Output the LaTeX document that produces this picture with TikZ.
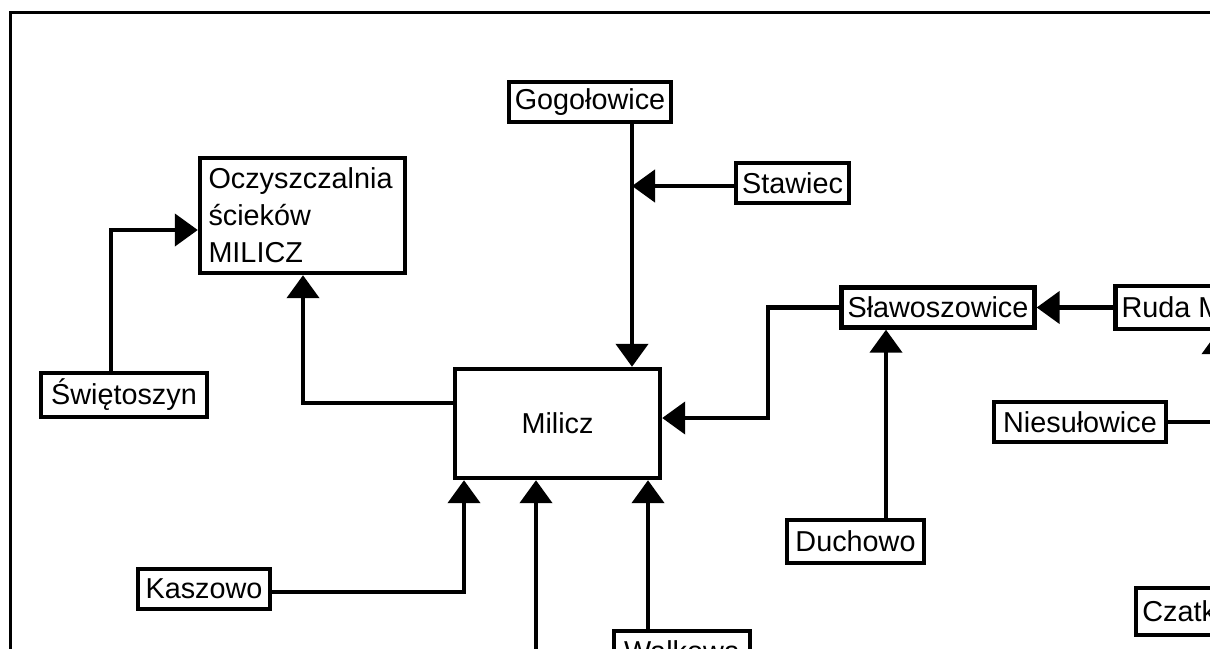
\documentclass[tikz,border=0pt]{standalone}
\usepackage{fontspec}
\setmainfont{Liberation Sans}
\usetikzlibrary{arrows.meta}

\begin{document}
\begin{tikzpicture}[x=0.5pt, y=-0.5pt, line width=2.2pt,
    >={Triangle[length=11.5pt, width=16pt]},
    font=\fontsize{14.4pt}{18.5pt}\selectfont,
    box/.style = {draw, inner xsep=3pt, inner ysep=0pt, minimum height=20pt},
    big/.style = {draw, minimum width=102.5pt}]
    \useasboundingbox (0,0) rectangle (1210,648);
    \clip (0,0) rectangle (1210,648);
    \draw[line width=1.5pt] (10.5,12) rectangle (1300,720);

    \node[big, text width=94pt, inner xsep=4pt, align=left, minimum height=57.5pt] (ocz) at (302.5,215.5) {Oczyszczalnia\\ścieków\\MILICZ};
    \node[big, minimum height=54.5pt] (mil) at (557.5,423.5) {Milicz};
    \node[box, minimum width=81pt] (gog) at (590,102) {Gogołowice};
    \node[box, minimum width=54.5pt] (staw) at (792.5,183) {Stawiec};
    \node[box, minimum width=95pt] (slaw) at (938,307.5) {Sławoszowice};
    \node[box, minimum width=88pt, minimum height=21.5pt] (ruda) at (1204,307.5) {Ruda Milicka};
    \node[box, minimum width=86pt] (nies) at (1080,422) {Niesułowice};
    \node[box, minimum width=80pt, minimum height=23.5pt] (czat) at (1216,611.5) {Czatkowice};
    \node[box, minimum width=68.5pt, minimum height=21.5pt] (duch) at (855.5,541.5) {Duchowo};
    \node[box, minimum width=83pt, minimum height=22pt] (swie) at (124,395) {Świętoszyn};
    \node[box, minimum width=66pt] (kasz) at (204,589) {Kaszowo};
    \node[box, minimum width=68pt] (walk) at (682,651) {Wałkowa};

    % bends and joints of the lines
    \coordinate (j1) at (632,186);
    \coordinate (k1) at (768,418);
    \coordinate (k2) at (886,0);
    \coordinate (k3) at (111,230);
    \coordinate (k4) at (303,403);
    \coordinate (k5) at (464,592);
    \coordinate (k6) at (536,720);
    \coordinate (k7) at (648,0);
    \coordinate (k8) at (1218,0);

    \draw[->] (gog.south -| j1) -- (mil.north -| j1);
    \draw[->] (staw.west |- j1) -- (j1);
    \draw[->] (slaw.west) -| (k1) -- (mil.east |- k1);
    \draw[->] (ruda.west) -- (slaw.east);
    \draw[->] (duch.north -| k2) -- (slaw.south -| k2);
    \draw[->] (nies.east) -| (ruda.south -| k8);
    \draw[->] (swie.north -| k3) |- (ocz.west |- k3);
    \draw[->] (mil.west |- k4) -| (ocz.south -| k4);
    \draw[->] (kasz.east |- k5) -| (mil.south -| k5);
    \draw[->] (k6) -- (mil.south -| k6);
    \draw[->] (walk.north -| k7) -- (mil.south -| k7);
\end{tikzpicture}
\end{document}
